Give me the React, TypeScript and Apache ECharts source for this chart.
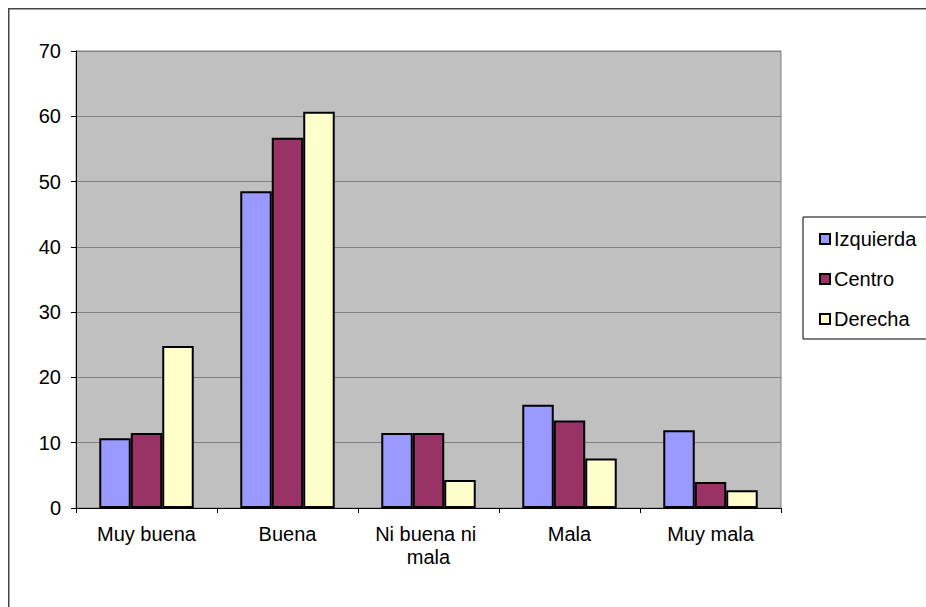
import React, { useEffect, useRef } from "react";
import * as echarts from "echarts";

const categories = ["Muy buena", "Buena", "Ni buena ni mala", "Mala", "Muy mala"];
const izquierda = [10.7, 48.5, 11.5, 15.8, 11.9];
const centro = [11.5, 56.7, 11.5, 13.4, 4.0];
const derecha = [24.8, 60.7, 4.3, 7.6, 2.7];
const seriesNames = ["Izquierda", "Centro", "Derecha"];
const seriesColors = ["#9999FF", "#993366", "#FFFFCC"];

export default function App() {
  const ref = useRef<HTMLDivElement>(null);
  useEffect(() => {
    document.body.style.margin = "0";
    document.body.style.overflow = "hidden";
    if (!ref.current) return;
    const chart = echarts.init(ref.current, null, { renderer: "svg" });
    const font = "'Liberation Sans', Arial, sans-serif";
    const values = [izquierda, centro, derecha];
    chart.setOption({
      animation: false,
      backgroundColor: "#ffffff",
      textStyle: { fontFamily: font },
      graphic: [
        {
          type: "rect",
          shape: { x: 8.75, y: 8.75, width: 2000, height: 2000 },
          style: { fill: "none", stroke: "#454545", lineWidth: 1.5 },
          silent: true,
          z: 100,
        },
      ],
      grid: {
        left: 76,
        right: 145,
        top: 51,
        bottom: 99,
        show: true,
        backgroundColor: "#C0C0C0",
        borderColor: "#808080",
        borderWidth: 1,
      },
      legend: {
        orient: "vertical",
        left: 803,
        top: 217,
        padding: [12, 11, 10, 16],
        itemGap: 20,
        itemWidth: 10,
        itemHeight: 10,
        borderColor: "#000000",
        borderWidth: 1,
        backgroundColor: "#ffffff",
        icon: "rect",
        textStyle: { fontFamily: font, fontSize: 20, color: "#000", lineHeight: 20, padding: [0, 0, 0, -1] },
        data: seriesNames,
      },
      xAxis: {
        type: "category",
        data: categories,
        boundaryGap: true,
        axisLine: { show: true, lineStyle: { color: "#000", width: 1 } },
        axisTick: { show: true, length: 5, lineStyle: { color: "#000" } },
        axisLabel: {
          fontFamily: font,
          fontSize: 20,
          color: "#000",
          margin: 14,
          lineHeight: 23,
          width: 125,
          overflow: "break",
          interval: 0,
        },
        splitLine: { show: false },
      },
      yAxis: {
        type: "value",
        min: 0,
        max: 70,
        interval: 10,
        axisLine: { show: true, lineStyle: { color: "#000", width: 1 } },
        axisTick: { show: true, length: 5, lineStyle: { color: "#000" } },
        axisLabel: { fontFamily: font, fontSize: 20, color: "#000", margin: 15 },
        splitLine: { show: true, lineStyle: { color: "#808080", width: 1 } },
      },
      series: seriesNames.map((name, i) => ({
        name,
        type: "bar",
        data: values[i],
        barGap: "0%",
        barCategoryGap: "33%",
        itemStyle: { color: seriesColors[i], borderColor: "#000", borderWidth: 2 },
      })),
    });
    return () => chart.dispose();
  }, []);
  return <div ref={ref} style={{ width: 926, height: 607 }} />;
}
